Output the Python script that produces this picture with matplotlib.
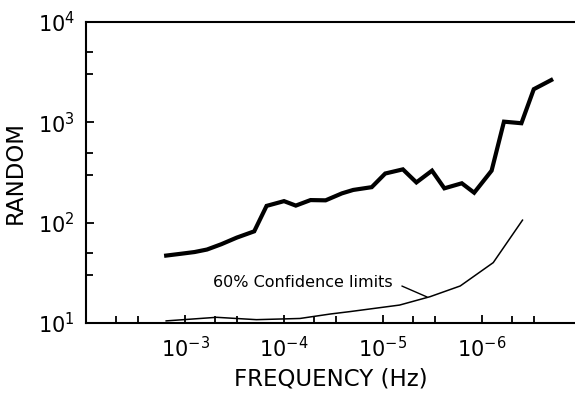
import matplotlib
matplotlib.use("Agg")
import matplotlib.pyplot as plt
from matplotlib.ticker import LogLocator, FixedLocator, NullFormatter

# thick curve: RANDOM vs frequency (Hz)
freq_random = [1.55e-3, 1.1e-3, 8e-4, 6e-4, 4.3e-4, 3e-4, 2e-4, 1.5e-4, 1e-4,
               7.6e-5, 5.4e-5, 3.8e-5, 2.6e-5, 2e-5, 1.3e-5, 9.5e-6, 6.3e-6,
               4.6e-6, 3.2e-6, 2.4e-6, 1.6e-6, 1.2e-6, 8e-7, 6e-7, 4e-7, 3e-7, 2e-7]
random_vals = [47, 49, 51, 54, 61, 71, 82, 147, 164, 148, 168, 167, 196, 212,
               226, 309, 340, 252, 330, 220, 247, 199, 330, 1016, 980, 2140, 2640]

# thin curve: 60% confidence limits
freq_conf = [1.55e-3, 4.8e-4, 1.9e-4, 6.9e-5, 3.4e-5, 2.15e-5, 6.8e-6,
             3.35e-6, 1.66e-6, 7.7e-7, 3.9e-7]
conf_vals = [10.5, 11.4, 10.8, 11.1, 12.3, 13.0, 15.1, 18.3, 23.4, 40, 106]

xticks = [1e-3, 1e-4, 1e-5, 1e-6]
xtick_labels = [r'$10^{-3}$', r'$10^{-4}$', r'$10^{-5}$', r'$10^{-6}$']
yticks = [1e1, 1e2, 1e3, 1e4]
ytick_labels = [r'$10^{1}$', r'$10^{2}$', r'$10^{3}$', r'$10^{4}$']

plt.rcParams['mathtext.fontset'] = 'dejavusans'

fig = plt.figure(figsize=(5.75, 3.96), dpi=100)
ax = fig.add_axes([0.1496, 0.1843, 0.8504, 0.7601])

ax.plot(freq_random, random_vals, color='black', lw=3.0, solid_joinstyle='miter')
ax.plot(freq_conf, conf_vals, color='black', lw=1.1)

ax.set_xscale('log')
ax.set_yscale('log')
ax.set_xlim(1e-2, 1.15e-7)
ax.set_ylim(1e1, 1e4)

ax.xaxis.set_major_locator(FixedLocator(xticks))
ax.set_xticklabels(xtick_labels)
ax.xaxis.set_minor_locator(LogLocator(base=10, subs=(3.0, 5.0), numticks=20))
ax.xaxis.set_minor_formatter(NullFormatter())
ax.yaxis.set_major_locator(FixedLocator(yticks))
ax.set_yticklabels(ytick_labels)
ax.yaxis.set_minor_locator(LogLocator(base=10, subs=(3.0, 5.0), numticks=20))
ax.yaxis.set_minor_formatter(NullFormatter())

ax.tick_params(which='both', direction='in', width=1.3, labelsize=15)
ax.tick_params(which='major', length=6)
ax.tick_params(which='minor', length=5)
ax.tick_params(axis='x', which='major', pad=9)
ax.tick_params(axis='y', which='major', pad=8)

for side in ['left', 'top', 'bottom']:
    ax.spines[side].set_linewidth(1.5)
ax.spines['right'].set_visible(False)

ax.set_xlabel('FREQUENCY (Hz)', fontsize=16.5, labelpad=5)
ax.set_ylabel('RANDOM', fontsize=16.5, labelpad=8)

ax.annotate('60% Confidence limits', xy=(3.6e-6, 18.2), xytext=(5.2e-4, 25.6),
            fontsize=11.5, ha='left', va='center',
            arrowprops=dict(arrowstyle='-', color='black', lw=1.0,
                            relpos=(1.0, 0.5), shrinkA=5, shrinkB=0))

fig.savefig('out.png', dpi=100)
